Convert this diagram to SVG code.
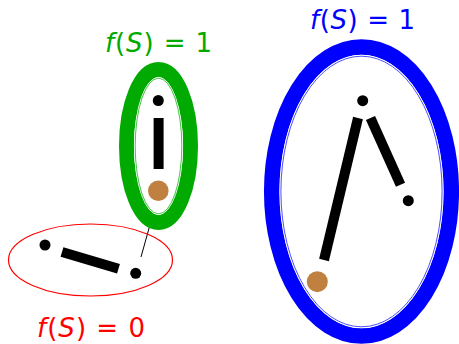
<svg xmlns="http://www.w3.org/2000/svg" width="459" height="344" viewBox="0 0 459 344">
<style>
.lbl{font-family:"DejaVu Sans","Liberation Sans",sans-serif;font-size:26px}
.it{font-style:italic}
.dot{fill:#000}
.src{fill:#bf8040}
.bar{stroke:#000;stroke-width:10;stroke-linecap:butt;fill:none}
</style>
<rect width="459" height="344" fill="#fff"/>
<g id="connectors">
<line x1="153" y1="214" x2="141" y2="257" stroke="#000" stroke-width="1"/>
</g>
<g id="green-set">
<ellipse cx="158.5" cy="146" rx="32" ry="76.5" fill="none" stroke="#00aa00" stroke-width="15"/>
<ellipse cx="158.5" cy="146" rx="24.1" ry="68.6" fill="none" stroke="#fff" stroke-width="1"/>
<ellipse cx="158.5" cy="146" rx="23.3" ry="67.8" fill="none" stroke="#00aa00" stroke-width="0.7"/>
<circle class="dot" cx="158.3" cy="100.5" r="5.5"/>
<line class="bar" x1="158.6" y1="118" x2="158.6" y2="169" stroke-width="10.5"/>
<circle class="src" cx="158.3" cy="190.7" r="10.3"/>
<text class="lbl" x="105" y="52" fill="#00aa00" textLength="107" lengthAdjust="spacing"><tspan class="it">f</tspan>(<tspan class="it">S</tspan>) = 1</text>
</g>
<g id="red-set">
<ellipse cx="90.5" cy="260" rx="82" ry="36" fill="none" stroke="#ff0000" stroke-width="1.2"/>
<circle class="dot" cx="45" cy="245" r="5.5"/>
<line class="bar" x1="62" y1="252" x2="118.5" y2="268.8" stroke-width="9.7"/>
<circle class="dot" cx="135.7" cy="273.3" r="5.5"/>
<text class="lbl" x="37" y="337" fill="#ff0000" textLength="108" lengthAdjust="spacing"><tspan class="it">f</tspan>(<tspan class="it">S</tspan>) = 0</text>
</g>
<g id="blue-set">
<ellipse cx="361.5" cy="191.5" rx="89.8" ry="144.6" fill="none" stroke="#0000ff" stroke-width="15.5"/>
<ellipse cx="361.5" cy="191.5" rx="81.5" ry="136.2" fill="none" stroke="#fff" stroke-width="1"/>
<ellipse cx="361.5" cy="191.5" rx="80.6" ry="135.3" fill="none" stroke="#0000ff" stroke-width="0.7"/>
<circle class="dot" cx="362.7" cy="100.7" r="5.5"/>
<circle class="dot" cx="408.3" cy="200.7" r="5.5"/>
<line class="bar" x1="324" y1="260" x2="358" y2="118"/>
<line class="bar" x1="370.5" y1="118" x2="400.5" y2="184.7" stroke-width="9.5"/>
<circle class="src" cx="317.3" cy="281.7" r="10.5"/>
<text class="lbl" x="310" y="29" fill="#0000ff" textLength="105" lengthAdjust="spacing"><tspan class="it">f</tspan>(<tspan class="it">S</tspan>) = 1</text>
</g>
</svg>
